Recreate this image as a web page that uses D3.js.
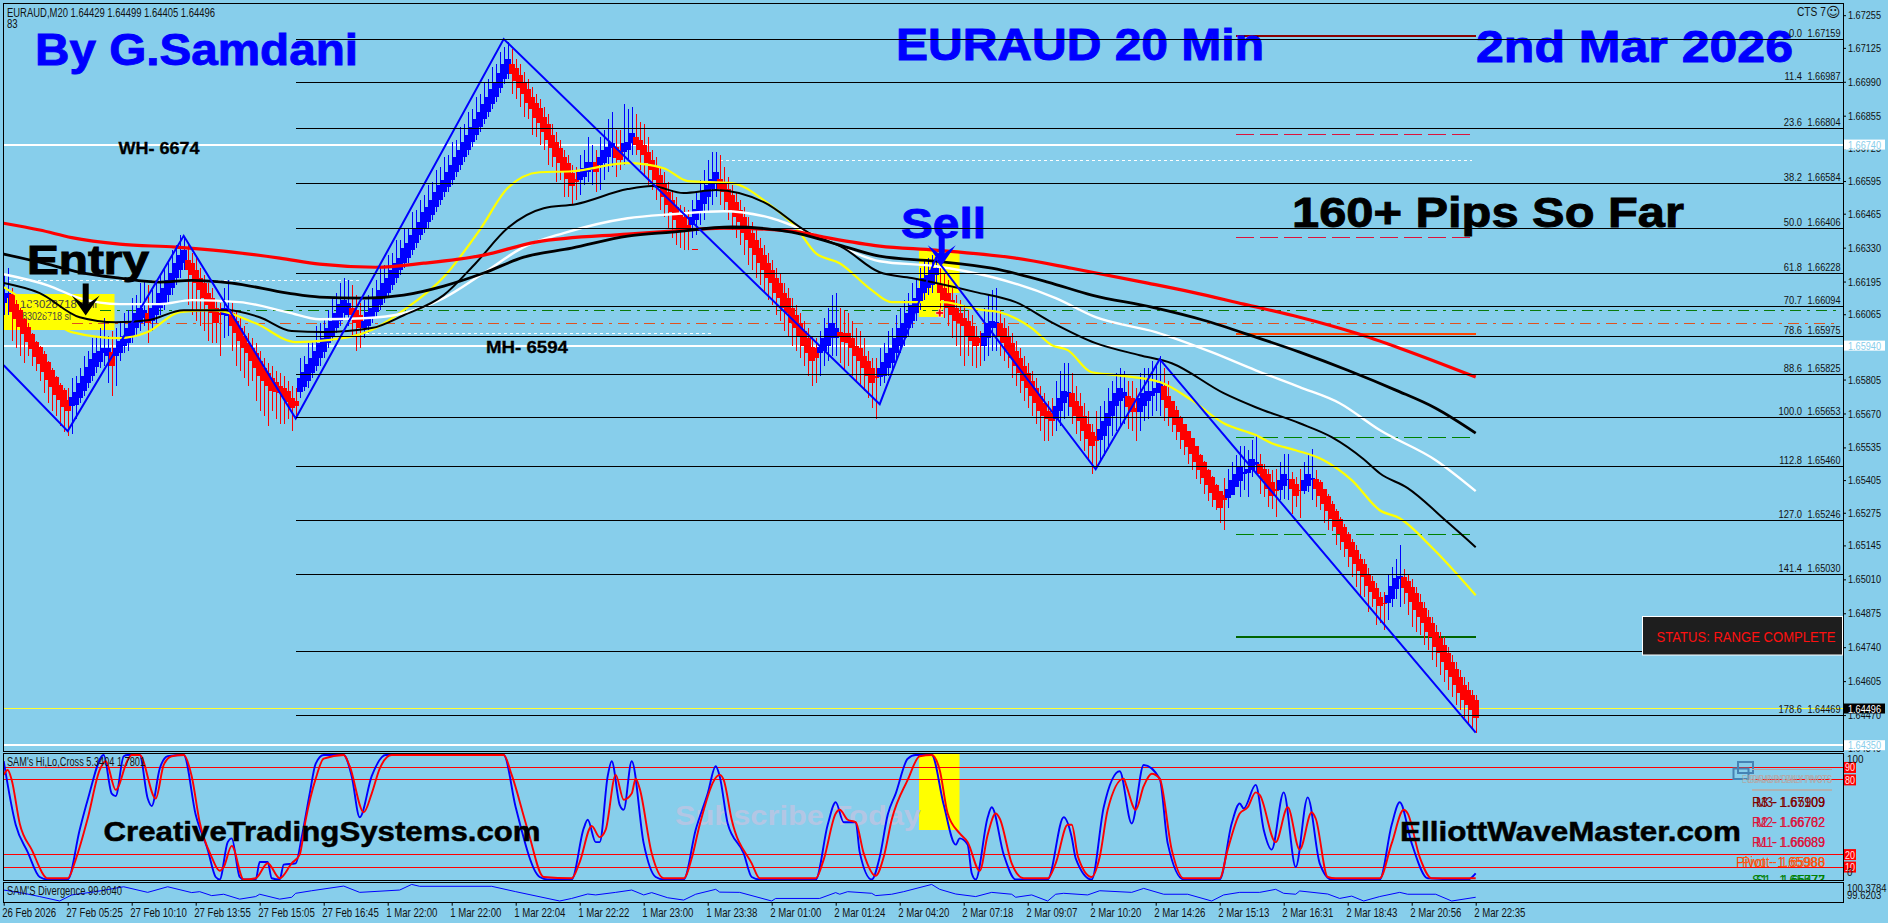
<!DOCTYPE html>
<html><head><meta charset="utf-8">
<style>html,body{margin:0;padding:0;background:#87ceeb;overflow:hidden}svg{display:block}</style>
<script src="https://cdn.jsdelivr.net/npm/d3@7/dist/d3.min.js"></script>
</head><body><div id="c"></div>
<script>
// Candle values, one per bar, in pips above 1.0000 (6716 = 1.6716). Ten values per line.
const opens=[
6611,6613,6614.5,6610.5,6608,6604.5,6601.5,6598.5,6595.5,6593.5,
6590.5,6587.5,6584.5,6581.5,6578.5,6576.5,6572.5,6570,6570.5,6573,
6576,6579,6582,6585.5,6587.5,6591,6590,6591.5,6590,6591,
6594,6595,6598,6601,6603,6605,6607,6604,6606,6609,
6611,6614,6617,6621,6624,6627,6628,6627,6624,6621,
6619,6615,6613,6609,6607,6606,6605.8,6607,6604,6601,
6598,6595,6593,6591,6588,6585,6583,6581,6579.5,6578,
6577,6576,6573,6572,6575.5,6577.5,6580,6583,6586,6589,
6591.5,6595,6598,6601,6604,6607,6606,6609,6608,6606,
6601,6602,6605,6607.5,6610,6613,6615,6618,6621,6624,
6627,6629,6632,6635,6638,6641,6643,6646,6649,6652,
6655,6657,6660,6663,6666,6669,6672,6675,6678,6681,
6684,6687,6690,6693,6696.5,6700,6702,6706,6704.5,6701.5,
6699,6696,6693,6690.5,6688.5,6685,6682,6678,6675,6672.5,
6669,6666.5,6662.5,6660.5,6660,6661,6663,6664,6667,6666,
6666.5,6669,6672.5,6673,6672,6671,6672,6674.5,6677,6676,
6674,6671,6668,6665,6662,6658.5,6655,6652,6649,6646,
6645,6642,6642,6644,6647,6650.5,6653,6656.5,6658.5,6660.5,
6658.5,6656.5,6654,6651,6648,6645,6641,6639,6636,6633,
6630,6627,6624,6621,6619,6615,6613,6609,6606,6603,
6600,6597,6593.5,6593,6591,6592,6594,6597,6597,6599.5,
6599,6599,6597,6594,6593,6590,6588,6585,6582,6581.5,
6582,6585,6587,6591,6594,6597,6601,6604,6607,6611,
6615,6617,6618,6622,6618.5,6617,6615,6612,6609,6607,
6605,6604,6602,6598,6597,6594,6597,6601,6601,6603,
6601,6598,6595,6592,6589,6586,6583,6580,6577,6574,
6571,6568,6567,6565,6568,6571,6573.5,6575,6572,6570,
6566,6563,6559.5,6558,6556.5,6558,6562,6566,6570,6572,
6573,6574,6573,6569,6567.5,6570,6572,6574,6575,6575,
6578,6574,6571.8,6568.5,6565.8,6562.9,6559.9,6557.2,6553.9,6550.5,
6547.5,6544.5,6541.9,6538.5,6536,6534.5,6533.4,6534.5,6537.8,6540,
6543,6543.5,6544.4,6546.7,6547,6545,6543,6539.8,6537,6536.5,
6538,6540.4,6540.8,6539,6536.7,6536.2,6538,6540.4,6541,6539.8,
6537,6534,6531,6528,6525,6522,6519,6516,6512.5,6509,
6507,6503,6500.5,6497.5,6494,6491.7,6491.5,6493,6497,6501,
6502,6500.5,6498,6495.5,6492,6489.5,6486,6483.5,6480,6477.5,
6475,6471.5,6468,6465.5,6462,6459,6457,6455,6453];
const closes=[
6614,6615,6607.5,6604.5,6601.5,6598.5,6595.5,6592.5,6589.5,6586.5,
6583.5,6580.5,6577.5,6574.5,6572.5,6569.5,6568,6573.5,6575.5,6579,
6582,6585.5,6588.5,6591,6592,6593,6593,6586,6593,6596,
6598,6601,6604,6607,6609,6608,6603,6609,6611,6615,
6617,6620,6623,6627,6630,6632,6624,6622,6619,6616,
6613,6610,6607,6603,6606,6609,6608.5,6602,6599,6596,
6593,6591,6588,6585,6582,6580,6578,6576,6575.5,6575,
6573.5,6571.5,6569,6570,6581,6583.5,6586.5,6589,6592,6595,
6597,6601,6604,6607,6610.5,6612,6611,6606,6603,6601,
6604,6607.5,6609,6613,6616,6619,6621,6624,6627,6629,
6633,6635,6638,6641,6643,6647,6649,6652,6655,6658,
6660,6663,6666,6669,6672,6675,6678,6681,6684,6687,
6690,6693,6696,6699,6702.5,6706,6708,6702,6699.5,6696.5,
6694,6690.5,6688,6684.5,6682.5,6679,6676,6672.5,6669,6666.5,
6663,6660.5,6657.5,6659,6663,6664.5,6667,6667,6663,6669,
6672,6673,6674.5,6668.5,6668,6674.5,6675,6678.5,6674,6672,
6670,6666.5,6664,6660,6657,6653,6650,6647,6644,6641,
6641,6640,6645,6648.5,6652,6655,6658,6660.5,6663,6656.5,
6655,6651,6648,6645,6643,6639,6636,6633,6630,6627,
6624,6621,6619,6615,6613,6609,6607,6603,6601,6598,
6594,6591,6588,6589,6593.5,6597,6601,6603,6601,6597.5,
6595.5,6595,6593,6590,6588,6585,6582,6579,6581,6585,
6587.5,6591,6593,6597,6601,6603,6607,6610,6613,6617,
6621,6622,6624,6625,6615,6612,6609,6606,6604,6603,
6602,6598,6596,6594,6595,6599,6603,6604,6603.5,6598,
6595,6592,6589,6586,6583,6580,6577,6574,6571,6568,
6566,6565,6564,6570,6573,6576,6575.5,6569.5,6566,6564,
6560,6557,6554,6556,6561,6564,6567,6572,6575,6577,
6575.5,6569.5,6567.5,6567.5,6573,6575,6576,6576,6577,6579,
6572.5,6569,6565.5,6562.5,6559.5,6556.5,6553.5,6550.9,6547.5,6544.5,
6541.5,6538.5,6535.5,6532.5,6529.5,6532.5,6537,6540.5,6543,6546,
6543.8,6545,6549,6547.5,6543,6540.4,6537,6534,6536,6540.4,
6543,6541,6537,6534,6536.2,6540.4,6543,6541.5,6537,6534,
6531,6528,6525,6522,6519,6516,6513,6510,6507,6504.5,
6502,6498.5,6496,6493,6490.5,6491,6494.8,6498.5,6501.5,6502.5,
6497.5,6495.5,6492,6488.7,6486,6483.5,6480,6478,6474,6471.5,
6468,6465,6462,6459,6455.7,6453,6451,6449,6445.7];
const highs=[
6623,6625,6617,6612,6609,6605,6603,6599,6596,6594,
6592,6588,6585,6582,6579,6577,6577,6581,6582,6585,
6590,6592,6597,6598,6601,6605,6598,6600,6601,6604,
6607,6608,6613,6614,6619,6620,6618,6616,6620,6622,
6625,6627,6632,6634,6638,6637,6634,6631,6629,6625,
6622,6619,6617,6612,6611,6617,6620,6611,6608,6605,
6602,6599,6597,6595,6592,6589,6587,6586,6584,6583,
6582,6580,6578,6577,6589,6590,6595,6596,6602,6603,
6605,6608,6613,6615,6619,6621,6620,6618,6614,6611,
6612,6614,6617,6620,6625,6626,6630,6631,6636,6636,
6641,6641,6647,6648,6652,6654,6658,6659,6664,6665,
6669,6670,6675,6676,6681,6682,6687,6688,6693,6694,
6699,6700,6705,6706,6711,6713,6715,6712,6708,6706,
6703,6700,6697,6694,6692,6689,6686,6682,6679,6676,
6672,6670,6666,6665,6670,6672,6677,6674,6672,6677,
6680,6684,6687,6680,6680,6690,6688,6689,6686,6683,
6682,6677,6672,6669,6665,6663,6659,6656,6653,6650,
6649,6648,6652,6655,6660,6664,6668,6671,6671,6670,
6665,6661,6658,6655,6652,6649,6645,6643,6640,6637,
6634,6631,6628,6625,6623,6619,6617,6613,6610,6607,
6604,6601,6598,6597,6600,6605,6609,6614,6615,6609,
6608,6607,6604,6601,6600,6597,6592,6589,6589,6593,
6595,6600,6601,6606,6609,6612,6615,6619,6621,6625,
6628,6629,6630,6631,6628,6623,6620,6617,6614,6612,
6610,6608,6606,6602,6600,6609,6614,6616,6617,6608,
6605,6602,6599,6596,6593,6590,6587,6584,6581,6578,
6575,6572,6573,6580,6584,6587,6587,6583,6578,6575,
6571,6568,6563,6568,6570,6572,6577,6580,6583,6585,
6584,6580,6580,6577,6583,6585,6585,6588,6586,6590,
6585,6580,6572,6570,6566,6563,6560,6557,6554,6551,
6548,6545,6542,6539,6536,6541.5,6544.8,6547.5,6550.4,6554,
6554,6552.4,6556.6,6558.4,6550.8,6547,6545,6544.4,6544.8,6547.7,
6550.8,6551,6543.8,6541.8,6544.8,6547.7,6550.8,6553,6544.4,6540.4,
6537,6535,6532,6529,6526,6523,6520,6517,6514.5,6511,
6509,6505.5,6502.5,6499.5,6496,6496,6503,6506,6509,6514.5,
6505,6503,6501,6498,6495,6492,6489,6486,6483,6480,
6478,6474,6471,6468,6465,6462,6460,6457,6455];
const lows=[
6606,6606,6596,6593,6590,6587,6590,6586,6584,6580,
6575,6571,6568,6566,6562,6559.6,6558,6559,6565,6571,
6574,6577,6580,6583,6585,6586,6579,6574,6578,6588,
6591,6592,6595,6598,6600,6602,6595,6600,6603,6606,
6608,6611,6614,6618,6621,6624,6610,6606,6604,6602,
6600,6596,6595,6595,6590,6597,6598,6592,6586,6584,
6581,6578,6580,6572,6568,6566,6562,6568,6565,6563,
6563,6565,6560,6565,6573,6576,6577,6581,6584,6586,
6589,6593,6596,6599,6602,6605,6602,6598,6592,6593,
6597,6599,6603,6605,6608,6611,6613,6616,6619,6622,
6625,6627,6630,6633,6636,6639,6641,6644,6647,6650,
6653,6655,6658,6661,6664,6667,6670,6673,6676,6679,
6682,6685,6688,6691,6694.5,6698,6700,6694,6692,6689,
6685,6684,6678,6677,6674,6672,6666,6665,6659,6660,
6653,6653,6650,6652,6654,6658,6659,6658,6655,6656,
6660,6663,6665,6661,6664,6666,6668,6670,6670,6664,
6662,6658,6656,6652,6648,6645,6641,6637,6634,6633,
6632,6632,6637,6638,6642,6644,6647,6650,6653,6650,
6648,6644,6640,6637,6634,6630,6626,6624,6621,6618,
6615,6612,6610,6606,6604,6600,6598,6594,6592,6589,
6586,6582,6578,6579,6582,6586,6588,6590,6590,6587,
6584,6586,6582,6580,6578,6576,6573,6569,6565,6578,
6579,6582,6584,6588,6591,6594,6598,6601,6604,6608,
6612,6614,6615,6619,6606,6605,6602,6597,6594,6590,
6586,6590,6586,6585,6586,6588,6590,6592,6592,6590,
6588,6585,6581,6578,6575,6572,6569,6566,6563,6560,
6556,6556,6558,6560,6562,6565,6566,6563,6559,6556,
6552,6548,6543,6545,6548,6550,6553,6558,6560,6562,
6563,6561,6560,6556,6560,6564,6565,6566,6568,6566,
6564,6562,6559.7,6556.6,6553,6550.4,6547,6544.4,6541,6539,
6535,6532,6529.6,6528.5,6523.5,6520.8,6529.4,6534.5,6537.8,6533.8,
6536.5,6533.8,6541.8,6543,6535,6533.8,6529.6,6529,6525.9,6532.5,
6533,6532.5,6527,6529.8,6525.6,6535,6535.8,6532.5,6529.6,6528.5,
6523.5,6520.5,6520.3,6514.6,6512.6,6510,6506,6502,6498,6494,
6494,6488,6490,6483,6483.5,6481,6485,6490,6493,6490,
6491,6487,6482,6480,6479,6475,6473,6469,6466,6463,
6460,6457,6454,6451,6449,6446,6443,6441,6440];

const zigzagBars=[0,16,45,73,125,219,233,273,289,368];
const zigzagPips=[6586.2,6560,6637.7,6565,6716,6570.7,6628.8,6544.8,6588.6,6440];

const maRedBars=[0,9,17,29,43,55,69,79,93,105,120,133,156,167,180,197,205,219,233,253,267,286,297,310,324,338,349,368];
const maRedPips=[6642.7,6640,6637,6634.4,6633.2,6631.6,6628.8,6626.4,6625.2,6626.8,6630,6635.2,6638.4,6639.6,6640.8,6639.6,6637.2,6633.6,6632,6628.8,6624.8,6618.9,6615.3,6610.5,6605.3,6599,6593,6581.5];
const maBlackBars=[0,9,19,29,39,47,57,71,79,90,100,110,120,130,142,156,167,182,197,209,219,233,247,261,272,287,300,313,324,336,348,358,368];
const maBlackPips=[6630.4,6627.2,6623.2,6620.9,6619.3,6620,6618.9,6614.9,6613.3,6612.9,6614.1,6617.7,6622.9,6629.2,6632.8,6637.6,6639.2,6641.2,6639.2,6634,6629.6,6627.6,6624.8,6619.3,6614.1,6609.3,6604.1,6597.4,6591.4,6584.2,6576.3,6569.1,6559.2];
const maWhiteBars=[0,11,19,29,39,47,59,71,79,90,100,110,120,130,140,156,167,180,192,204,219,233,247,263,273,288,302,313,324,334,344,358,368];
const maWhitePips=[6622.4,6618,6612.9,6610.5,6610.5,6612.1,6611.3,6607.3,6604.5,6604.9,6606.9,6612.9,6622.9,6633.2,6638.8,6644.7,6646.3,6647.5,6644.7,6637.2,6627.6,6625.6,6621.3,6612.9,6605.3,6599.4,6591.4,6584.2,6577.5,6571.1,6560.4,6548.4,6536.1];
const maThinBars=[0,9,19,28,36,45,56,64,72,80,92,100,110,118,126,135,143,156,162,170,178,190,201,210,219,227,243,253,262,273,284,292,305,313,324,332,340,344,351,361,368];
const maThinPips=[6618.9,6614.9,6605.3,6603.3,6604.1,6608.1,6608.1,6605.3,6599.8,6599.4,6601,6606.1,6614.1,6626.8,6640.8,6648.7,6650.3,6656.3,6657.5,6654.7,6655.9,6651.1,6639.2,6632.8,6623.2,6620.9,6615.3,6611.3,6603.3,6595,6590.2,6587,6575.1,6569.5,6563.1,6557.6,6548.8,6543.2,6537.3,6523.7,6513.8];
const maYellowBars=[0,9,17,29,36,44,52,63,73,81,92,100,110,119,126,134,142,156,165,171,182,191,198,203,209,217,222,235,243,249,257,262,266,272,278,289,297,305,313,317,323,330,337,344,349,357,368];
const maYellowPips=[6617.3,6608.1,6599.4,6597,6599.4,6607.3,6608.1,6602.9,6595.4,6596.2,6600.2,6608.1,6621.3,6640,6656.7,6663,6663.4,6666.6,6664.6,6659.5,6658.7,6650.7,6641.2,6630.8,6626.8,6616.1,6611.3,6611.3,6608.5,6607.3,6601,6594.2,6592.2,6583.4,6582.3,6579.5,6572.3,6563.1,6558.4,6555.2,6552.4,6548.4,6540.5,6528.5,6525.3,6513.8,6494.7];

const stochBlueBars=[0,3,6,9,11,16,19,21,25,27,28,30,31,34,36,37,39,41,45,48,51,53,54,56,57,59,60,63,64,66,67,69,70,73,74.5,76.5,78,80,85,87,89,92,95.5,125,128,134,136,142,145,146,148,149,151,152,154,155,157,160,163,165,170,173,176,178,179,181,185,187,189,203,206,208,210,213,214,217,219,221,223,226,228,232,235,238,239,241,242,243,246,247,250,253,261,265,267,268,272,275,279,282,285,289,291,295,304,307,309,310,313,315,317,320,323,326,329,332,344,347,349,352,356,366,368];
const stochBlueVals=[95,44,22,2,0,0,40,64,100,69,67,99,100,100,65,59,89,99,100,52,24,2,0,30,33,2,0,0,14,14,1,0,12,13,34,69,93,100,100,83,50,83,100,100,58,2,0,0,41,48,30,30,83,95,60,56,95,29,2,0,0,40,69,91,83,45,21,2,0,0,44,62,46,46,22,0,18,52,69,97,100,100,60,28,33,28,5,0,50,58,20,0,0,50,34,17,0,58,87,45,92,81,29,0,0,45,61,57,76,40,24,70,10,66,13,0,0,44,62,29,1,0,5];
const stochRedBars=[0,1,2,4,7,11,16,18,21,24,25.5,28,31,32,34,38,40,42,45,47,49,52,54,55,57,60,63,66,69,72,74,75.5,78,80,85,86.5,90,92,94,97,125,127,131,135,142,144,147,149,150.5,153,155,157,158,159,162,165,170,172,174,179,180,182,187,189,203,205,208,209,211,213,215,218,220,222,226,229,232,234,236,239,241,244,246,248,249,252,255,261,263,266,267,268.6,272,274,276,280,280.6,283,285,287,289,292,295,304,306,309,311,313,314,318,321,324,327,328,331,333,344,347,350,351,354,357,368];
const stochRedVals=[84,88,80,45,24,1,1,16,49,88,95,72,96,100,100,65,92,99,100,83,46,18,7,10,27,0,1,13,1,13,20,48,81,97,100,91,54,69,89,100,100,84,40,2,1,14,43,34,40,84,64,69,81,73,21,1,1,17,44,84,80,48,13,1,1,16,53,56,48,46,21,3,18,48,80,99,100,88,53,37,30,7,36,53,49,13,1,1,13,44,44,18,2,18,56,81,76,56,75,85,81,24,1,1,24,53,58,70,68,30,58,24,54,49,2,1,1,29,56,53,18,1,1];

const divBars=[0,5,9,14,17,23,30,36,41,47,49,52,55,59,63,64,69,72,73,77,85,89,99,102,104,122,128,139,142,146,148,153,157,160,162,166,170,173,178,179,184,192,193,204,208,209,211,217,218,222,225,232,234,238,243,247,252,253,257,261,263,265,271,274,282,285,290,296,302,305,309,314,318,320,323,324,331,334,337,340,344,349,351,358,362,368];
const divVals=[100.12,99.98,99.84,99.65,99.91,100.05,100.26,100.02,100.26,100.01,100.05,99.88,99.94,99.73,99.84,99.94,99.73,99.81,99.98,100.09,100.29,100.02,100.12,100.36,100.28,100.28,100.05,99.65,99.76,99.95,99.91,100.02,100.12,99.91,100.01,99.79,99.69,99.94,100.15,100.03,100.02,99.65,99.76,99.76,100.01,99.94,100.05,99.98,99.88,99.94,100.05,100.36,100.15,99.95,99.84,100.02,99.94,99.81,99.91,99.65,99.94,99.98,99.91,100.09,100.02,100.19,99.94,99.94,99.65,99.91,100.02,100.02,100.15,99.98,99.94,100.08,99.95,99.76,99.86,99.65,99.84,100.02,99.94,99.94,99.65,99.81];

const fibLevels=["0.0","11.4","23.6","38.2","50.0","61.8","70.7","78.6","88.6","100.0","112.8","127.0","141.4","161.8","178.6"];
const fibPrices=[1.67159,1.66987,1.66804,1.66584,1.66406,1.66228,1.66094,1.65975,1.65825,1.65653,1.65460,1.65246,1.65030,1.64722,1.64469];
const priceTicks=[1.67255,1.67125,1.66990,1.66855,1.66725,1.66595,1.66465,1.66330,1.66195,1.66065,1.65805,1.65670,1.65535,1.65405,1.65275,1.65145,1.65010,1.64875,1.64740,1.64605,1.64470,1.64340];
const timeLabels=["26 Feb 2026","27 Feb 05:25","27 Feb 10:10","27 Feb 13:55","27 Feb 15:05","27 Feb 16:45","1 Mar 22:00","1 Mar 22:00","1 Mar 22:04","1 Mar 22:22","1 Mar 23:00","1 Mar 23:38","2 Mar 01:00","2 Mar 01:24","2 Mar 04:20","2 Mar 07:18","2 Mar 09:07","2 Mar 10:20","2 Mar 14:26","2 Mar 15:13","2 Mar 16:31","2 Mar 18:43","2 Mar 20:56","2 Mar 22:35"];
const stochLevels=[90,80,20,10];

const W=1888,H=923,axisX=1843,FONT="'Liberation Sans',Arial,sans-serif",SKY="#87ceeb";
const svg=d3.select("#c").append("svg").attr("width",W).attr("height",H).style("background",SKY).style("font-family",FONT);
const x=d3.scaleLinear().domain([0,368]).range([3.7,1475.7]);
const y=d3.scaleLinear().domain([1.67159,1.64469]).range([39.3,715.3]);
const yP=v=>y(1+v/1e4);
const yS=d3.scaleLinear().domain([0,100]).range([879.5,755]);
const yD=d3.scaleLinear().domain([99.6203,100.3784]).range([901.7,884]);

const defs=svg.append("defs");
defs.append("clipPath").attr("id","cpMain").append("rect").attr("x",3).attr("y",3).attr("width",axisX-3).attr("height",748);
defs.append("clipPath").attr("id","cpSub").append("rect").attr("x",3).attr("y",753.5).attr("width",axisX-3).attr("height",127);
defs.append("clipPath").attr("id","cpDiv").append("rect").attr("x",3).attr("y",882.5).attr("width",axisX-3).attr("height",20);

function txt(g,s,px,py,o={}){
  const t=g.append("text").text(s).attr("x",px).attr("y",py)
    .attr("font-size",o.size||11).attr("font-weight",o.bold?"700":"400").attr("fill",o.fill||"#000")
    .attr("text-anchor",o.anchor||"start");
  if(o.opacity)t.attr("opacity",o.opacity);
  if(o.family)t.attr("font-family",o.family);
  if(o.stroke)t.attr("stroke",o.fill||"#000").attr("stroke-width",o.stroke);
  const w=o.width||(o.squeeze?t.node().getComputedTextLength()*o.squeeze:0);
  if(w)t.attr("textLength",w).attr("lengthAdjust","spacingAndGlyphs");
  return t;
}
function seg(g,price,b0,b1,color,w,dash){
  const l=g.append("line").attr("x1",x(b0)).attr("x2",x(b1)).attr("y1",y(price)).attr("y2",y(price))
    .attr("stroke",color).attr("stroke-width",w).attr("shape-rendering","crispEdges");
  if(dash)l.attr("stroke-dasharray",dash);
}
const main=svg.append("g").attr("clip-path","url(#cpMain)");

// yellow highlight boxes
[[3,294,111.5,36],[919,250,24,67],[943,250,16.5,43]].forEach(r=>main.append("rect").attr("x",r[0]).attr("y",r[1]).attr("width",r[2]).attr("height",r[3]).attr("fill","#ffff00"));
txt(main,"183028718 sell",20,308,{size:11,fill:"#444",width:77});
txt(main,"183028718 sl",17,320,{size:11,fill:"#444",width:54});

// full-width level lines
seg(main,1.66740,-1,460,"#fff",2);
seg(main,1.65940,-1,460,"#fff",2);
seg(main,1.64350,-1,460,"#fff",2);
seg(main,1.64496,-1,460,"#ffff33",1);
seg(main,1.66078,24,458,"#0a7a0a",1,"11 6 3 6");
seg(main,1.66029,17,458,"#e0531f",1,"11 6 3 6");
seg(main,1.66201,1,89,"#fff",1,"3 3");
seg(main,1.65990,89,177,"#fff",1,"3 3");
seg(main,1.66678,179,367,"#fff",1,"3 3");
seg(main,1.66781,308,367,"#dc143c",1,"18 6");
seg(main,1.66371,308,367,"#dc143c",1,"18 6");
seg(main,1.65575,308,367,"#008000",1,"18 6");
seg(main,1.65189,308,367,"#008000",1,"18 6");
seg(main,1.67172,308,368,"#8b0000",2);
seg(main,1.65988,308,368,"#ff4500",2);
seg(main,1.64782,308,368,"#006400",2);

// candles
const bars=d3.range(opens.length);
const col=i=>closes[i]>opens[i]?"#0000ff":"#ff0000";
main.append("g").attr("shape-rendering","crispEdges").selectAll("line").data(bars).join("line")
  .attr("x1",i=>Math.round(x(i))).attr("x2",i=>Math.round(x(i))).attr("y1",i=>yP(highs[i])).attr("y2",i=>yP(lows[i]))
  .attr("stroke",col).attr("stroke-width",1);
main.append("g").attr("shape-rendering","crispEdges").selectAll("rect").data(bars).join("rect")
  .attr("x",i=>Math.round(x(i))-3).attr("width",6)
  .attr("y",i=>yP(Math.max(opens[i],closes[i])))
  .attr("height",i=>Math.max(1.5,yP(Math.min(opens[i],closes[i]))-yP(Math.max(opens[i],closes[i]))))
  .attr("fill",col);

// small markers
main.append("path").attr("d",d3.symbol(d3.symbolCross,34)()).attr("transform",`translate(${x(234)},${yP(6607)})`).attr("fill","#ff0000").attr("stroke","#fff").attr("stroke-width",.6);
seg(main,1+6632.2/1e4,172,173.5,"#ff0000",1);

// moving averages
const line=d3.line().curve(d3.curveMonotoneX);
function ma(bs,vs,color,w){
  main.append("path").attr("d",line(bs.map((b,i)=>[x(b),yP(vs[i])]))).attr("fill","none").attr("stroke",color).attr("stroke-width",w);
}
ma(maYellowBars,maYellowPips,"#ffff00",2.2);
ma(maWhiteBars,maWhitePips,"#ffffff",2.4);
ma(maThinBars,maThinPips,"#000000",2);
ma(maRedBars,maRedPips,"#ff0000",3.2);
ma(maBlackBars,maBlackPips,"#000000",2.8);

// zigzag
main.append("path").attr("d",d3.line()(zigzagBars.map((b,i)=>[x(b),yP(zigzagPips[i])]))).attr("fill","none").attr("stroke","#0000ff").attr("stroke-width",2);

// big annotation text
txt(main,"By G.Samdani",35,65,{size:44,bold:1,fill:"#0000ff",width:323,stroke:.9});
txt(main,"EURAUD 20 Min",896,60,{size:44,bold:1,fill:"#0000ff",width:368,stroke:.9});
txt(main,"2nd Mar 2026",1476,62,{size:44,bold:1,fill:"#0000ff",width:317,stroke:.9});
txt(main,"160+ Pips So Far",1292,227,{size:43,bold:1,fill:"#000",width:392,stroke:.9});
txt(main,"Sell",901,238,{size:43,bold:1,fill:"#0000ff",width:85,stroke:.9});
txt(main,"Entry",27,274,{size:41,bold:1,fill:"#000",width:122,stroke:1});
txt(main,"WH- 6674",118.5,154,{size:17,bold:1,fill:"#000",width:81,stroke:.3});
txt(main,"MH- 6594",486,353,{size:17,bold:1,fill:"#000",width:82,stroke:.3});

// arrows, anchored on the bar and price they point at
const arrow="M0,0L-14,-20L-3,-12L-3,-32L3,-32L3,-12L14,-20Z";
main.append("path").attr("d",arrow).attr("transform",`translate(${x(20.5)},${yP(6606)})`).attr("fill","#000");
main.append("path").attr("d",arrow).attr("transform",`translate(${x(234.5)},${yP(6626)})`).attr("fill","#0000ff");

// fibonacci lines and labels
const fib=svg.append("g");
fib.selectAll("line").data(fibPrices).join("line").attr("x1",x(73)).attr("x2",axisX).attr("y1",d=>y(d)).attr("y2",d=>y(d))
  .attr("stroke","#000").attr("stroke-width",1).attr("shape-rendering","crispEdges");
fibPrices.forEach((p,i)=>{
  txt(fib,p.toFixed(5),1840.5,y(p)-2.5,{anchor:"end",size:11,width:33,fill:"#111"});
  txt(fib,fibLevels[i],1802,y(p)-2.5,{anchor:"end",size:11,squeeze:.85,fill:"#111"});
});

// status box
svg.append("rect").attr("x",1642.5).attr("y",616.5).attr("width",200).attr("height",38.5).attr("fill","#1e1e1e").attr("stroke","#fff").attr("stroke-width",1);
txt(svg,"STATUS: RANGE COMPLETE",1656.5,642,{size:15,fill:"#ff1010",width:179});

// header texts
txt(svg,"EURAUD,M20  1.64429 1.64499 1.64405 1.64496",7,17,{size:12,width:208,fill:"#111"});
txt(svg,"83",7,28,{size:12,squeeze:.8,fill:"#111"});
txt(svg,"CTS 7",1797,16,{size:12,squeeze:.85,fill:"#111"});
txt(svg,"\u263A",1826,17,{size:14,family:"'DejaVu Sans'",fill:"#111"});

// stochastic pane
const sub=svg.append("g").attr("clip-path","url(#cpSub)");
sub.append("rect").attr("x",919).attr("y",754).attr("width",40.5).attr("height",76).attr("fill","#ffff00");
txt(sub,"Subscribe Today",675,825,{size:28,bold:1,fill:"#b3c6e4",width:246});
sub.selectAll("line").data(stochLevels).join("line").attr("x1",3).attr("x2",axisX).attr("y1",d=>yS(d)).attr("y2",d=>yS(d))
  .attr("stroke","#ff0000").attr("stroke-width",1).attr("shape-rendering","crispEdges");
const sl=d3.line();
const sc=d3.line().curve(d3.curveMonotoneX);
sub.append("path").attr("d",sc(stochBlueBars.map((b,i)=>[x(b),yS(stochBlueVals[i])]))).attr("fill","none").attr("stroke","#0000ff").attr("stroke-width",1.9);
sub.append("path").attr("d",sc(stochRedBars.map((b,i)=>[x(b),yS(stochRedVals[i])]))).attr("fill","none").attr("stroke","#ff0000").attr("stroke-width",1.9);
txt(sub,"SAM's Hi,Lo,Cross 5.3404 1.7801",7,766,{size:12,width:138,fill:"#111"});
// pivot panel
sub.append("rect").attr("x",1738).attr("y",762).attr("width",15).attr("height",11).attr("fill","none").attr("stroke","#4682b4").attr("stroke-width",2);
sub.append("rect").attr("x",1733.5).attr("y",768.5).attr("width",15).attr("height",10.5).attr("fill","none").attr("stroke","#4682b4").attr("stroke-width",2);
sub.append("line").attr("x1",1752).attr("x2",1832).attr("y1",769.5).attr("y2",769.5).attr("stroke","#aaa").attr("stroke-width",1);
sub.append("line").attr("x1",1752).attr("x2",1832).attr("y1",790).attr("y2",790).attr("stroke","#b0b0b0").attr("stroke-width",2);
txt(sub,"EURAUD WEEKLY PIVOTS",1742,783,{size:10,fill:"#aaa",width:90});
txt(sub,"EURAUD DAILY PIVOTS",1748,783,{size:10,fill:"#b8a8a8",width:84});
[["R3 - 1.67109","M3- 1.65909",807,"#800000"],["R2 - 1.66702","M2- 1.66782",827,"#dc143c"],["R1 - 1.66689","M1- 1.66089",847,"#dc143c"],["S1 - 1.65577","S1 - 1.65473",885,"#008000"]].forEach(r=>{
  txt(sub,r[0],1752,r[2],{size:15.5,fill:r[3],width:73});
  txt(sub,r[1],1756,r[2],{size:15.5,fill:r[3],width:69});
});
txt(sub,"Pivot - 1.65988",1736,867,{size:15.5,fill:"#ff4500",width:89});
txt(sub,"Pivot - 1.65980",1742,867,{size:15.5,fill:"#ff5a10",width:83});

// big site names
txt(svg,"CreativeTradingSystems.com",103.6,841,{size:27,bold:1,fill:"#000",width:437,stroke:.5});
txt(svg,"ElliottWaveMaster.com",1400,841,{size:27,bold:1,fill:"#000",width:341,stroke:.5});

// stochastic tags
const tags=svg.append("g");
stochLevels.forEach(v=>{
  tags.append("rect").attr("x",1844).attr("y",yS(v)-5.5).attr("width",12).attr("height",11).attr("fill","#ff0000");
  txt(tags,String(v),1850,yS(v)+4,{anchor:"middle",size:11,fill:"#ffe0e0",width:10});
});
txt(svg,"100",1847,763,{size:11,squeeze:.9,fill:"#111"});
txt(svg,"0",1847,876,{size:11,squeeze:.9,fill:"#111"});

// divergence pane
const dv=svg.append("g").attr("clip-path","url(#cpDiv)");
dv.append("path").attr("d",sl(divBars.map((b,i)=>[x(b),yD(divVals[i])]))).attr("fill","none").attr("stroke","#0000ff").attr("stroke-width",1);
txt(dv,"SAM'S Divergence 99.8040",7,895,{size:12,width:115,fill:"#111"});
txt(svg,"100.3784",1847,892,{size:10.5,squeeze:.9,fill:"#111"});
txt(svg,"99.6203",1847,899,{size:10.5,squeeze:.9,fill:"#111"});

// pane frames
[[3,3,751],[3,753,880.7],[3,882.3,902.7]].forEach(f=>{
  svg.append("rect").attr("x",f[0]).attr("y",f[1]).attr("width",axisX-f[0]).attr("height",f[2]-f[1]).attr("fill","none").attr("stroke","#000").attr("stroke-width",1).attr("shape-rendering","crispEdges");
});

// price axis
const pa=svg.append("g").attr("transform",`translate(${axisX},0)`)
  .call(d3.axisRight(y).tickValues(priceTicks).tickFormat(d3.format(".5f")).tickSize(3).tickPadding(2));
pa.select(".domain").remove();
pa.selectAll("text").attr("font-size",11).attr("font-family",FONT).attr("fill","#111").attr("textLength",33).attr("lengthAdjust","spacingAndGlyphs");
pa.selectAll("line").attr("stroke","#000");

// time axis
const ta=svg.append("g").attr("transform","translate(0,902.7)")
  .call(d3.axisBottom(x).tickValues(timeLabels.map((_,i)=>i*16)).tickFormat((d,i)=>timeLabels[i]).tickSize(3).tickPadding(3));
ta.select(".domain").remove();
ta.selectAll("line").attr("stroke","#000");
ta.selectAll("text").attr("font-size",12).attr("font-family",FONT).attr("fill","#111").attr("text-anchor","start").attr("dx",-2).attr("y",6)
  .each(function(){const w=this.getComputedTextLength();d3.select(this).attr("textLength",w*.8).attr("lengthAdjust","spacingAndGlyphs");});

// price tags
[[1.66740,"#fff",SKY],[1.65940,"#fff",SKY],[1.64350,"#fff",SKY],[1.64496,"#000","#fff"]].forEach(t=>{
  svg.append("rect").attr("x",1844).attr("y",y(t[0])-5).attr("width",41).attr("height",10).attr("fill",t[1]);
  txt(svg,t[0].toFixed(5),1848,y(t[0])+4,{size:11,width:33,fill:t[2]});
});
</script></body></html>
